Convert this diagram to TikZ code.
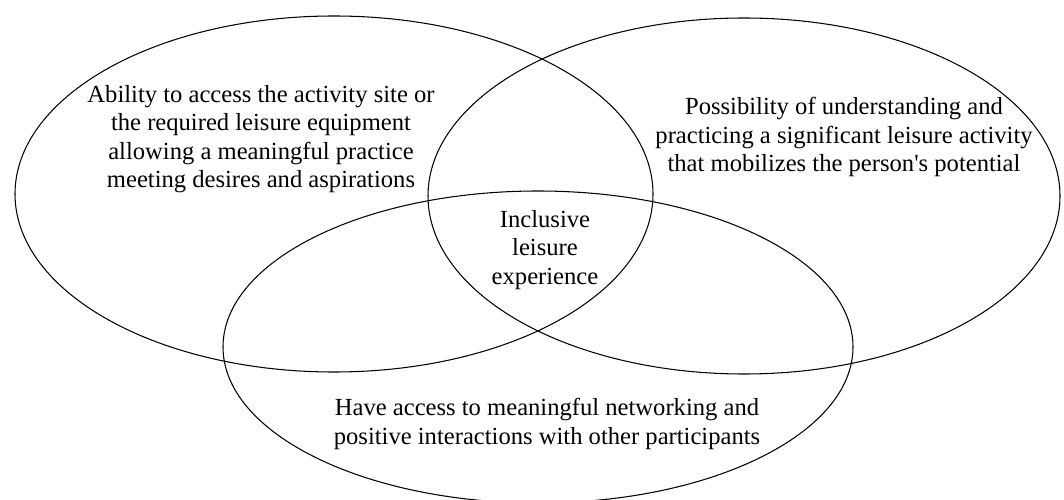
\documentclass[tikz,border=0pt]{standalone}
\usepackage{fontspec}
\setmainfont{Liberation Serif}
\usetikzlibrary{shapes.geometric}

\begin{document}
\begin{tikzpicture}[
    every node/.style={font=\fontsize{14}{16.1}\selectfont},
    circ/.style={draw, ellipse, line width=0.6pt, inner sep=0pt, outer sep=0pt},
    label/.style={align=center, inner sep=0pt}
  ]
    \useasboundingbox (0,0) rectangle (21.28,-10);

    % the three ellipses
    \node[circ, minimum width=12.76cm, minimum height=7.12cm] (access) at (6.68,-3.88) {};
    \node[circ, minimum width=12.64cm, minimum height=7.12cm] (practice) at (14.88,-3.92) {};
    \node[circ, minimum width=12.6cm, minimum height=6.24cm] (network) at (10.76,-6.94) {};

    % texts
    \node[label] (accesstext) at (5.22,-2.78) {Ability to access the activity site or\\
        the required leisure equipment\\ allowing a meaningful practice\\
        meeting desires and aspirations};
    \node[label] (practicetext) at (16.88,-2.74) {Possibility of understanding and\\
        practicing a significant leisure activity\\ that mobilizes the person\textquotesingle s potential};
    \node[label] (networktext) at (10.94,-8.48) {Have access to meaningful networking and\\
        positive interactions with other participants};
    \node[label] (core) at (10.9,-5.0) {Inclusive\\ leisure\\ experience};
\end{tikzpicture}
\end{document}
